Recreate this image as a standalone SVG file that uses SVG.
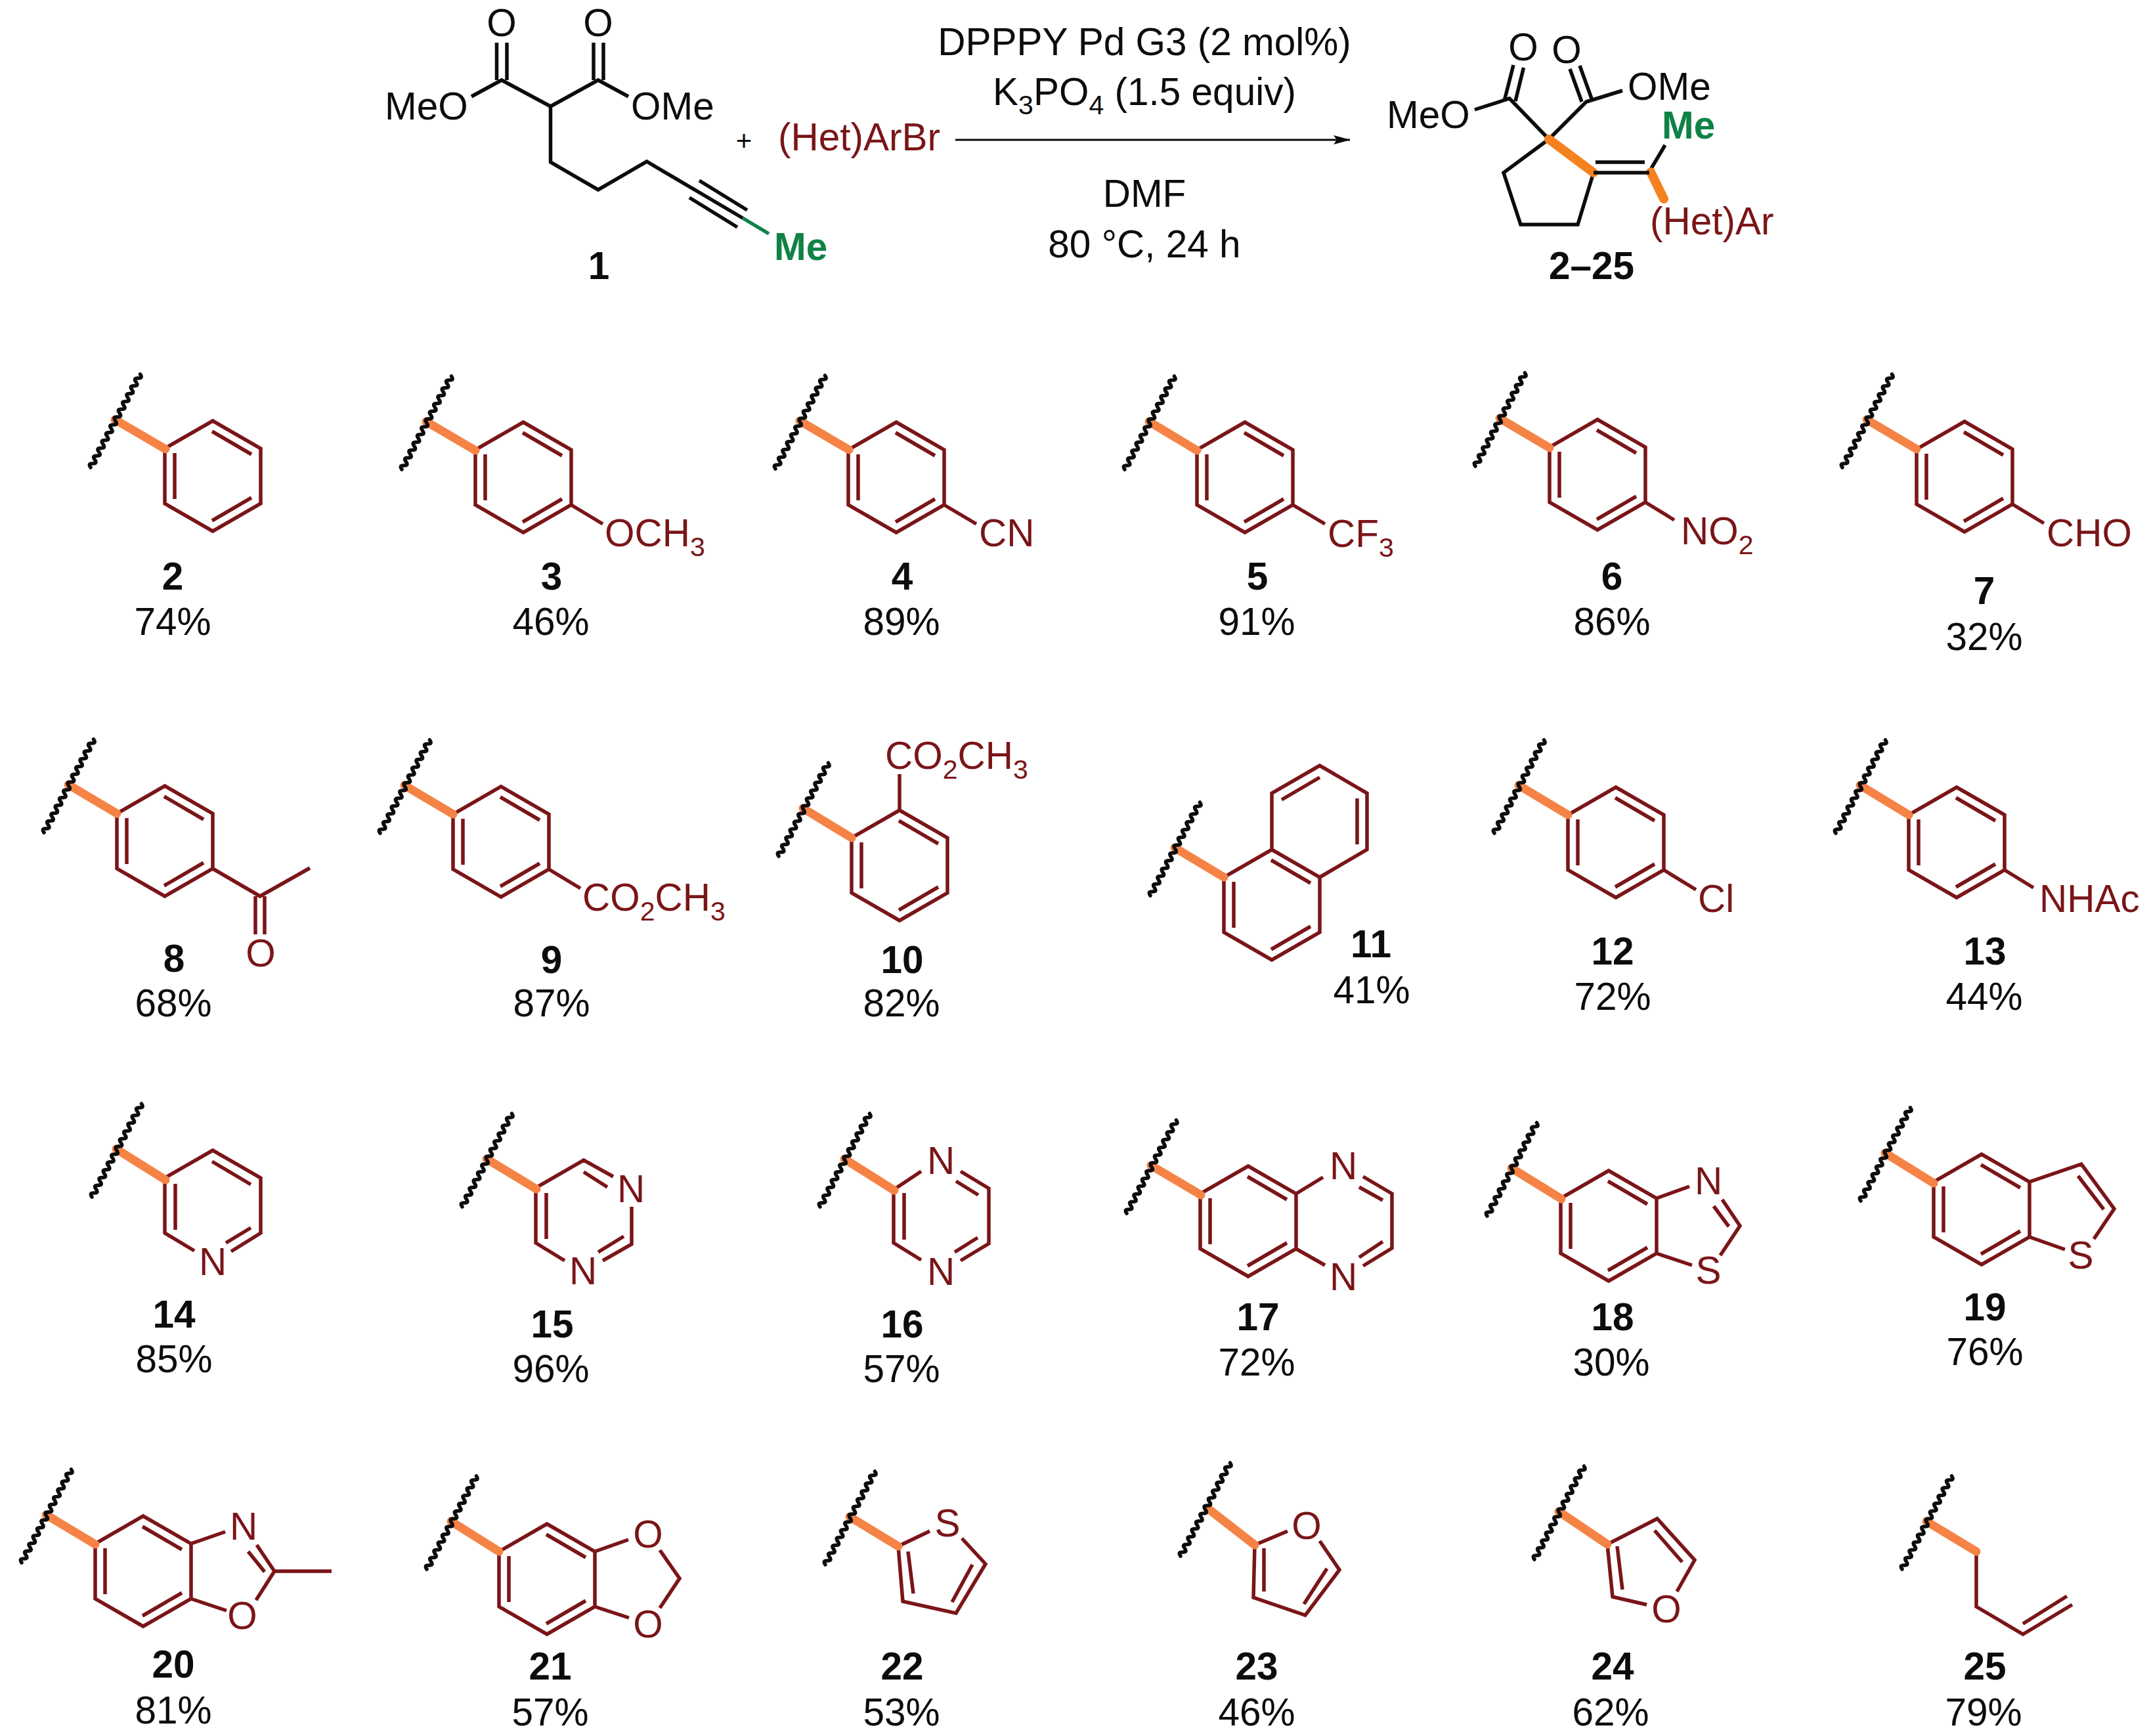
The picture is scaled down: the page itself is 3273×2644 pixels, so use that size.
<svg xmlns="http://www.w3.org/2000/svg" width="3273" height="2644" viewBox="0 0 3273 2644">
<style>
text{font-family:"Liberation Sans",Arial,sans-serif;font-size:58.5px;fill:#0c0c0c}
.r{fill:#7a1518}
.g{fill:#0f8246;font-weight:700}
.n{font-weight:700;text-anchor:middle}
.c{text-anchor:middle}
.rc{fill:#7a1518;text-anchor:middle}
.s{font-size:41px}
.k{fill:none;stroke:#0c0c0c;stroke-width:5.5;stroke-linejoin:miter}
.m{fill:none;stroke:#7a1518;stroke-width:5.5;stroke-linejoin:miter}
.o{fill:none;stroke:#f58345;stroke-width:13;stroke-linecap:round}
.o2{fill:none;stroke:#f58220;stroke-width:14;stroke-linecap:round}
.w{fill:none;stroke:#0c0c0c;stroke-width:5.5;stroke-linecap:round}
</style>
<defs>
<marker id="ah" markerUnits="userSpaceOnUse" markerWidth="26" markerHeight="14" refX="25" refY="7" orient="auto"><path d="M0 0L26 7L0 14L5 7Z" fill="#0c0c0c"/></marker>
<path id="bz" class="m" d="M0 -84L73 -42V42L0 84L-73 42V-42ZM-58 -35V35M-1 -68L59 -33M-1 68L59 33"/>
<path id="cut" class="w" transform="translate(-37,73) rotate(-62)" d="M0 0q3.35 -7 6.7 0t6.7 0t6.7 0t6.7 0t6.7 0t6.7 0t6.7 0t6.7 0t6.7 0t6.7 0t6.7 0t6.7 0t6.7 0t6.7 0t6.7 0t6.7 0t6.7 0t6.7 0t6.7 0t6.7 0t6.7 0t6.7 0t6.7 0t6.7 0"/>
</defs>

<g id="substrate-1">
<path class="k" d="M756.5 65V122M772 65V122M904 65V122M919 65V122M718 147L764 122L838.5 162L911 122L957 147M838.5 162V247L911 289L985 246L1131 332M1065 275L1138 320M1050 301L1123 346"/>
<path d="M1131 332L1171 356" fill="none" stroke="#0f8246" stroke-width="5.5"/>
<text x="764" y="55" class="c">O</text><text x="911" y="55" class="c">O</text>
<text x="586" y="182">MeO</text><text x="961" y="182">OMe</text>
<text x="1179" y="396" class="g">Me</text>
<text x="912" y="425" class="n">1</text>
</g>
<g id="plus"><text x="1133" y="229" class="c" style="font-size:42px">+</text></g>
<g id="reagent-arbr"><text x="1185" y="229" class="r">(Het)ArBr</text></g>
<g id="conditions">
<text x="1743" y="84" class="c">DPPPY Pd G3 (2 mol%)</text>
<text x="1743" y="160" class="c">K<tspan class="s" dy="14">3</tspan><tspan dy="-14">PO</tspan><tspan class="s" dy="14">4</tspan><tspan dy="-14"> (1.5 equiv)</tspan></text>
<text x="1743" y="315" class="c">DMF</text>
<text x="1743" y="392" class="c">80 °C, 24 h</text>
</g>
<g id="connectors"><path d="M1455 213H2056" fill="none" stroke="#0c0c0c" stroke-width="3" marker-end="url(#ah)"/></g>

<g id="product">
<path class="k" d="M2291 154L2305 99M2308 154L2320.5 103M2409 155L2391 105M2424 150L2406 100M2246 167L2299 150L2359 212L2416 155L2471 138M2359 212L2290 263L2316 342H2403L2427 263M2430 247H2505M2514 258L2536 221"/>
<path class="o2" d="M2359 212L2427 263M2514 262L2534 303"/>
<path class="k" d="M2427 263H2512"/>
<text x="2320" y="92" class="c">O</text><text x="2386" y="96" class="c">O</text>
<text x="2112" y="195">MeO</text><text x="2479" y="152">OMe</text>
<text x="2531" y="211" class="g">Me</text>
<text x="2513" y="357" class="r">(Het)Ar</text>
<text x="2424" y="425" class="n">2–25</text>
</g>

<g id="c2"><use href="#bz" x="324" y="725"/><path class="o" d="M175 639L252 684"/><use href="#cut" x="175" y="639"/><text x="263" y="898" class="n">2</text><text x="263" y="967" class="c">74%</text></g>
<g id="c3"><use href="#bz" x="797" y="727"/><path class="m" d="M870 769L918 798"/><path class="o" d="M649 642L724 686"/><use href="#cut" x="649" y="642"/><text x="921" y="832" class="r">OCH<tspan class="s" dy="15">3</tspan></text><text x="840" y="898" class="n">3</text><text x="839" y="967" class="c">46%</text></g>
<g id="c4"><use href="#bz" x="1365" y="727"/><path class="m" d="M1438 769L1487 798"/><path class="o" d="M1218 641L1293 685"/><use href="#cut" x="1218" y="641"/><text x="1491" y="832" class="r">CN</text><text x="1374" y="898" class="n">4</text><text x="1373" y="967" class="c">89%</text></g>
<g id="c5"><use href="#bz" x="1896" y="727"/><path class="m" d="M1969 769L2018 798"/><path class="o" d="M1750 642L1823 686"/><use href="#cut" x="1750" y="642"/><text x="2022" y="833" class="r">CF<tspan class="s" dy="15">3</tspan></text><text x="1915" y="898" class="n">5</text><text x="1914" y="967" class="c">91%</text></g>
<g id="c6"><use href="#bz" x="2433" y="723"/><path class="m" d="M2506 765L2550 792"/><path class="o" d="M2284 637L2360 682"/><use href="#cut" x="2284" y="637"/><text x="2560" y="829" class="r">NO<tspan class="s" dy="15">2</tspan></text><text x="2455" y="898" class="n">6</text><text x="2455" y="967" class="c">86%</text></g>
<g id="c7"><use href="#bz" x="2992" y="726"/><path class="m" d="M3065 768L3113 797"/><path class="o" d="M2843 639L2919 684"/><use href="#cut" x="2843" y="639"/><text x="3117" y="832" class="r">CHO</text><text x="3022" y="920" class="n">7</text><text x="3022" y="990" class="c">32%</text></g>

<g id="c8"><use href="#bz" x="251" y="1281"/><path class="m" d="M324 1323L396 1365L472 1322M389 1365V1423M403 1365V1423"/><path class="o" d="M104 1195L178 1239"/><use href="#cut" x="104" y="1195"/><text x="397" y="1472" class="rc">O</text><text x="265" y="1480" class="n">8</text><text x="264" y="1548" class="c">68%</text></g>
<g id="c9"><use href="#bz" x="763" y="1282"/><path class="m" d="M836 1324L884 1353"/><path class="o" d="M616 1196L690 1240"/><use href="#cut" x="616" y="1196"/><text x="887" y="1387" class="r">CO<tspan class="s" dy="15">2</tspan><tspan dy="-15">CH</tspan><tspan class="s" dy="15">3</tspan></text><text x="840" y="1482" class="n">9</text><text x="840" y="1548" class="c">87%</text></g>
<g id="c10"><use href="#bz" x="1370" y="1318"/><path class="m" d="M1370 1234V1179"/><path class="o" d="M1223 1231L1297 1276"/><use href="#cut" x="1223" y="1231"/><text x="1348" y="1171" class="r">CO<tspan class="s" dy="15">2</tspan><tspan dy="-15">CH</tspan><tspan class="s" dy="15">3</tspan></text><text x="1374" y="1482" class="n">10</text><text x="1373" y="1548" class="c">82%</text></g>
<g id="c11"><use href="#bz" x="1937" y="1378"/><path class="m" d="M1937 1294V1208L2010 1166L2082 1208V1294L2010 1336M1952 1218L2010 1184M2067 1216V1286"/><path class="o" d="M1789 1291L1864 1336"/><use href="#cut" x="1789" y="1291"/><text x="2088" y="1458" class="n">11</text><text x="2089" y="1528" class="c">41%</text></g>
<g id="c12"><use href="#bz" x="2461" y="1283"/><path class="m" d="M2534 1325L2583 1355"/><path class="o" d="M2313 1196L2388 1241"/><use href="#cut" x="2313" y="1196"/><text x="2586" y="1389" class="r">Cl</text><text x="2456" y="1469" class="n">12</text><text x="2456" y="1538" class="c">72%</text></g>
<g id="c13"><use href="#bz" x="2980" y="1283"/><path class="m" d="M3053 1325L3097 1352"/><path class="o" d="M2833 1196L2907 1241"/><use href="#cut" x="2833" y="1196"/><text x="3106" y="1389" class="r">NHAc</text><text x="3023" y="1469" class="n">13</text><text x="3022" y="1538" class="c">44%</text></g>

<g id="c14"><path class="m" d="M296 1905L251 1878V1794L324 1752L397 1794V1878L352 1906M267 1803V1873M323 1769L382 1804M382 1870L344 1893"/><path class="o" d="M177 1750L252 1797"/><use href="#cut" x="177" y="1750"/><text x="324" y="1942" class="rc">N</text><text x="265" y="2022" class="n">14</text><text x="265" y="2090" class="c">85%</text></g>
<g id="c15"><path class="m" d="M934 1792L889 1767L816 1809V1893L860 1920M889 1785L925 1808M962 1838V1895L918 1920M950 1883L911 1907M832 1817V1887"/><path class="o" d="M741 1765L817 1811"/><use href="#cut" x="741" y="1765"/><text x="961" y="1831" class="rc">N</text><text x="888" y="1956" class="rc">N</text><text x="841" y="2037" class="n">15</text><text x="839" y="2105" class="c">96%</text></g>
<g id="c16"><path class="m" d="M1403 1784L1361 1812V1893L1403 1919M1463 1784L1506 1810V1894L1463 1920M1456 1799L1490 1820M1489 1885L1454 1907M1377 1817V1888"/><path class="o" d="M1286 1765L1362 1813"/><use href="#cut" x="1286" y="1765"/><text x="1433" y="1788" class="rc">N</text><text x="1433" y="1957" class="rc">N</text><text x="1374" y="2037" class="n">16</text><text x="1373" y="2105" class="c">57%</text></g>
<g id="c17"><use href="#bz" x="1901" y="1860"/><path class="m" d="M1974 1818L2015 1793M2076 1792L2120 1818V1901L2076 1928M2070 1808L2106 1828M2106 1891L2070 1915M1974 1902L2018 1927"/><path class="o" d="M1753 1775L1829 1820"/><use href="#cut" x="1753" y="1775"/><text x="2046" y="1796" class="rc">N</text><text x="2046" y="1965" class="rc">N</text><text x="1916" y="2026" class="n">17</text><text x="1914" y="2095" class="c">72%</text></g>
<g id="c18"><use href="#bz" x="2450" y="1867"/><path class="m" d="M2523 1825L2573 1807M2623 1827L2650 1867L2620 1912M2610 1837L2633 1868M2523 1909L2577 1927"/><path class="o" d="M2302 1779L2378 1826"/><use href="#cut" x="2302" y="1779"/><text x="2602" y="1819" class="rc">N</text><text x="2602" y="1955" class="rc">S</text><text x="2456" y="2026" class="n">18</text><text x="2454" y="2095" class="c">30%</text></g>
<g id="c19"><use href="#bz" x="3018" y="1842"/><path class="m" d="M3091 1800L3170 1773L3220 1841L3189 1887M3165 1791L3204 1842M3091 1884L3145 1903"/><path class="o" d="M2871 1756L2945 1802"/><use href="#cut" x="2871" y="1756"/><text x="3169" y="1932" class="rc">S</text><text x="3023" y="2011" class="n">19</text><text x="3023" y="2079" class="c">76%</text></g>

<g id="c20"><use href="#bz" x="218" y="2393"/><path class="m" d="M291 2351L343 2333M391 2353L418 2393L390 2437M378 2363L403 2394M291 2435L345 2453M418 2393H505"/><path class="o" d="M70 2307L145 2352"/><use href="#cut" x="70" y="2307"/><text x="371" y="2345" class="rc">N</text><text x="369" y="2481" class="rc">O</text><text x="264" y="2555" class="n">20</text><text x="264" y="2625" class="c">81%</text></g>
<g id="c21"><use href="#bz" x="833" y="2405"/><path class="m" d="M906 2363L957 2345M1005 2361L1035 2404L1005 2449M906 2447L958 2464"/><path class="o" d="M687 2317L760 2363"/><use href="#cut" x="687" y="2317"/><text x="987" y="2357" class="rc">O</text><text x="987" y="2494" class="rc">O</text><text x="838" y="2558" class="n">21</text><text x="838" y="2628" class="c">57%</text></g>
<g id="c22"><path class="m" d="M1416 2332L1368 2355L1375 2439L1456 2457L1501 2382L1465 2343M1383 2363L1391 2427M1481 2383L1450 2440"/><path class="o" d="M1294 2310L1368 2355"/><use href="#cut" x="1294" y="2310"/><text x="1443" y="2340" class="rc">S</text><text x="1374" y="2558" class="n">22</text><text x="1373" y="2628" class="c">53%</text></g>
<g id="c23"><path class="m" d="M1961 2332L1911 2353L1909 2433L1988 2460L2040 2391L2010 2347M1925 2358V2424M2021 2389L1986 2443"/><path class="o" d="M1839 2297L1911 2353"/><use href="#cut" x="1835" y="2297"/><text x="1990" y="2344" class="rc">O</text><text x="1914" y="2558" class="n">23</text><text x="1914" y="2628" class="c">46%</text></g>
<g id="c24"><path class="m" d="M2508 2444L2456 2432L2448 2352L2524 2313L2581 2376L2554 2424M2463 2355L2471 2421M2520 2331L2562 2379"/><path class="o" d="M2374 2302L2448 2352"/><use href="#cut" x="2374" y="2302"/><text x="2538" y="2471" class="rc">O</text><text x="2456" y="2558" class="n">24</text><text x="2453" y="2628" class="c">62%</text></g>
<g id="c25"><path class="m" d="M3010 2363V2447L3081 2489L3156 2444M3081 2473L3148 2431"/><path class="o" d="M2934 2317L3010 2363"/><use href="#cut" x="2934" y="2317"/><text x="3023" y="2558" class="n">25</text><text x="3021" y="2628" class="c">79%</text></g>
</svg>
